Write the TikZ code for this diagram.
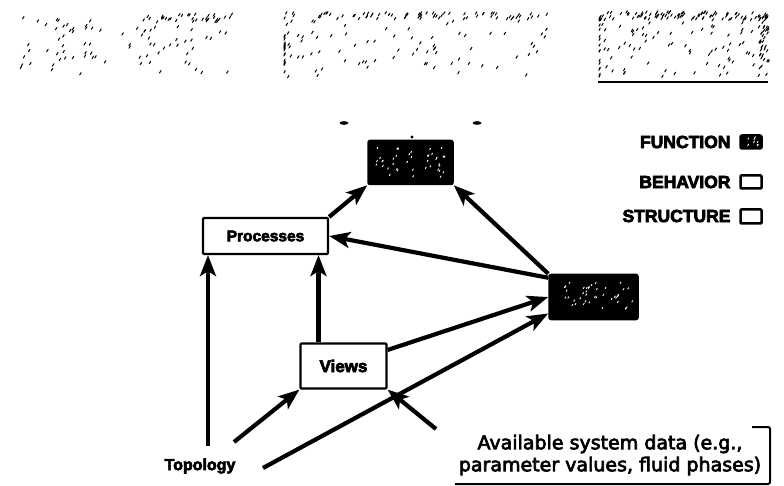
\documentclass[tikz,border=0pt]{standalone}
\usepackage{fontspec}
\setmainfont{Liberation Sans}
\newfontfamily\lblfont{Liberation Sans Bold}[FakeBold=4]
\newfontfamily\datafont{DejaVu Sans}[FakeBold=3.5]
\usetikzlibrary{arrows.meta}
\begin{document}
\begin{tikzpicture}[x=1pt,y=-1pt,
  arr/.style={line width=4.2pt,-{Stealth[length=21pt,width=16pt,inset=5pt]}},
  blk/.style={draw=black,fill=black,rounded corners=2pt,line width=1.5pt},
  wbox/.style={draw=black,fill=white,line width=2.2pt,rounded corners=1pt},
  leg/.style={font=\lblfont\fontsize{17.5}{20}\selectfont,anchor=east},
  speck/.style={line width=1pt,line cap=round},
  wspeck/.style={white,line width=0.9pt,line cap=round}]
\useasboundingbox (0,0) rectangle (784,486);
% scanned, unreadable header blocks
\pgfmathsetseed{11}
\foreach \i in {1,...,85}{
  \pgfmathsetmacro\xx{20+212*rnd}\pgfmathsetmacro\yy{18+58*rnd}
  \draw[speck] (\xx,\yy) -- ++(1.5,-2.4);}
\foreach \i in {1,...,28}{
  \pgfmathsetmacro\xx{140+92*rnd}\pgfmathsetmacro\yy{15+8*rnd}
  \draw[speck] (\xx,\yy) -- ++(1.5,-2.4);}
\foreach \i in {1,...,75}{
  \pgfmathsetmacro\xx{286+262*rnd}\pgfmathsetmacro\yy{22+56*rnd}
  \draw[speck] (\xx,\yy) -- ++(1.5,-2.4);}
\foreach \i in {1,...,70}{
  \pgfmathsetmacro\xx{283+267*rnd}\pgfmathsetmacro\yy{14+6*rnd}
  \draw[speck] (\xx,\yy) -- ++(1.5,-2.4);}
\foreach \i in {1,...,18}{
  \pgfmathsetmacro\yy{18+60*rnd}
  \draw[speck] (284,\yy) -- ++(1.2,-2.4);}
\foreach \i in {1,...,75}{
  \pgfmathsetmacro\xx{600+165*rnd}\pgfmathsetmacro\yy{20+58*rnd}
  \draw[speck] (\xx,\yy) -- ++(1.5,-2.4);}
\foreach \i in {1,...,90}{
  \pgfmathsetmacro\xx{598+170*rnd}\pgfmathsetmacro\yy{13+8*rnd}
  \draw[speck] (\xx,\yy) -- ++(1.5,-2.4);}
\foreach \i in {1,...,40}{
  \pgfmathsetmacro\yy{14+66*rnd}\pgfmathsetmacro\xx{758+10*rnd}
  \draw[speck] (\xx,\yy) -- ++(1.5,-2.4);}
\foreach \i in {1,...,16}{
  \pgfmathsetmacro\yy{18+60*rnd}
  \draw[speck] (599,\yy) -- ++(1.2,-2.4);}
\draw[line width=2pt] (598,82) -- (768,82);
% marks above the function box
\fill (344,123) ellipse (4.5 and 1.8);
\fill (477,123) ellipse (4.5 and 1.8);
\fill (412,137) circle (1.6);
% main boxes
\node[blk,minimum width=85pt,minimum height=44pt] (func) at (410.5,162.5) {};
\node[blk,minimum width=89pt,minimum height=45pt] (beh) at (593.5,297) {};
\node[wbox,minimum width=125pt,minimum height=36pt,font=\lblfont\fontsize{15.5}{18}\selectfont] (proc) at (265.5,236) {Processes};
\node[wbox,minimum width=86pt,minimum height=45pt,font=\lblfont\fontsize{17}{19}\selectfont] (views) at (343.5,366) {Views};
% white specks in black boxes
\foreach \i in {1,...,40}{
  \pgfmathsetmacro\xx{374+74*rnd}\pgfmathsetmacro\yy{148+30*rnd}
  \draw[wspeck] (\xx,\yy) -- ++(0.8,-1.4);}
\foreach \i in {1,...,40}{
  \pgfmathsetmacro\xx{555+78*rnd}\pgfmathsetmacro\yy{282+30*rnd}
  \draw[wspeck] (\xx,\yy) -- ++(0.8,-1.4);}
% legend
\node[leg] (lf) at (734,142) {FUNCTION};
\node[blk,minimum width=22pt,minimum height=14pt] (lfb) at (751,142) {};
\foreach \i in {1,...,8}{
  \pgfmathsetmacro\xx{744+14*rnd}\pgfmathsetmacro\yy{138+8*rnd}
  \draw[wspeck] (\xx,\yy) -- ++(0.8,-1.4);}
\node[leg] (lb) at (734,182) {BEHAVIOR};
\node[draw,line width=2.5pt,rounded corners=1pt,minimum width=21pt,minimum height=13pt] (lbb) at (751,182) {};
\node[leg] (ls) at (734,216) {STRUCTURE};
\node[draw,line width=2.5pt,rounded corners=1pt,minimum width=21pt,minimum height=14pt] (lsb) at (751,216.5) {};
% bottom labels
\node[font=\lblfont\fontsize{16}{18}\selectfont] (topo) at (200,466) {Topology};
\node[font=\datafont\fontsize{19}{22}\selectfont,align=center] (data) at (610,455) {Available system data (e.g.,\\parameter values, fluid phases)};
\draw[line width=2pt,rounded corners=2pt] (455,484) -- (770,484) -- (770,427) -- (752,427);
% connectors
\coordinate (t1) at (208,446);
\coordinate (t2) at (234,442);
\coordinate (t3) at (263,468);
\coordinate (d1) at (436,429);
\draw[arr] (proc.north east) -- (func.south west);
\draw[arr] (beh.north west) -- (func.south east);
\draw[arr] ([yshift=-4pt]beh.north west) -- (proc.east);
\draw[arr] (t1) -- (t1 |- proc.south);
\draw[arr] ([xshift=-25pt]views.north) -- ([xshift=-25pt]views.north |- proc.south);
\draw[arr] (views.20) -- (beh.west);
\draw[arr] (t2) -- (views.south west);
\draw[arr] (t3) -- (beh.200);
\draw[arr] (d1) -- (views.south east);
\end{tikzpicture}
\end{document}
